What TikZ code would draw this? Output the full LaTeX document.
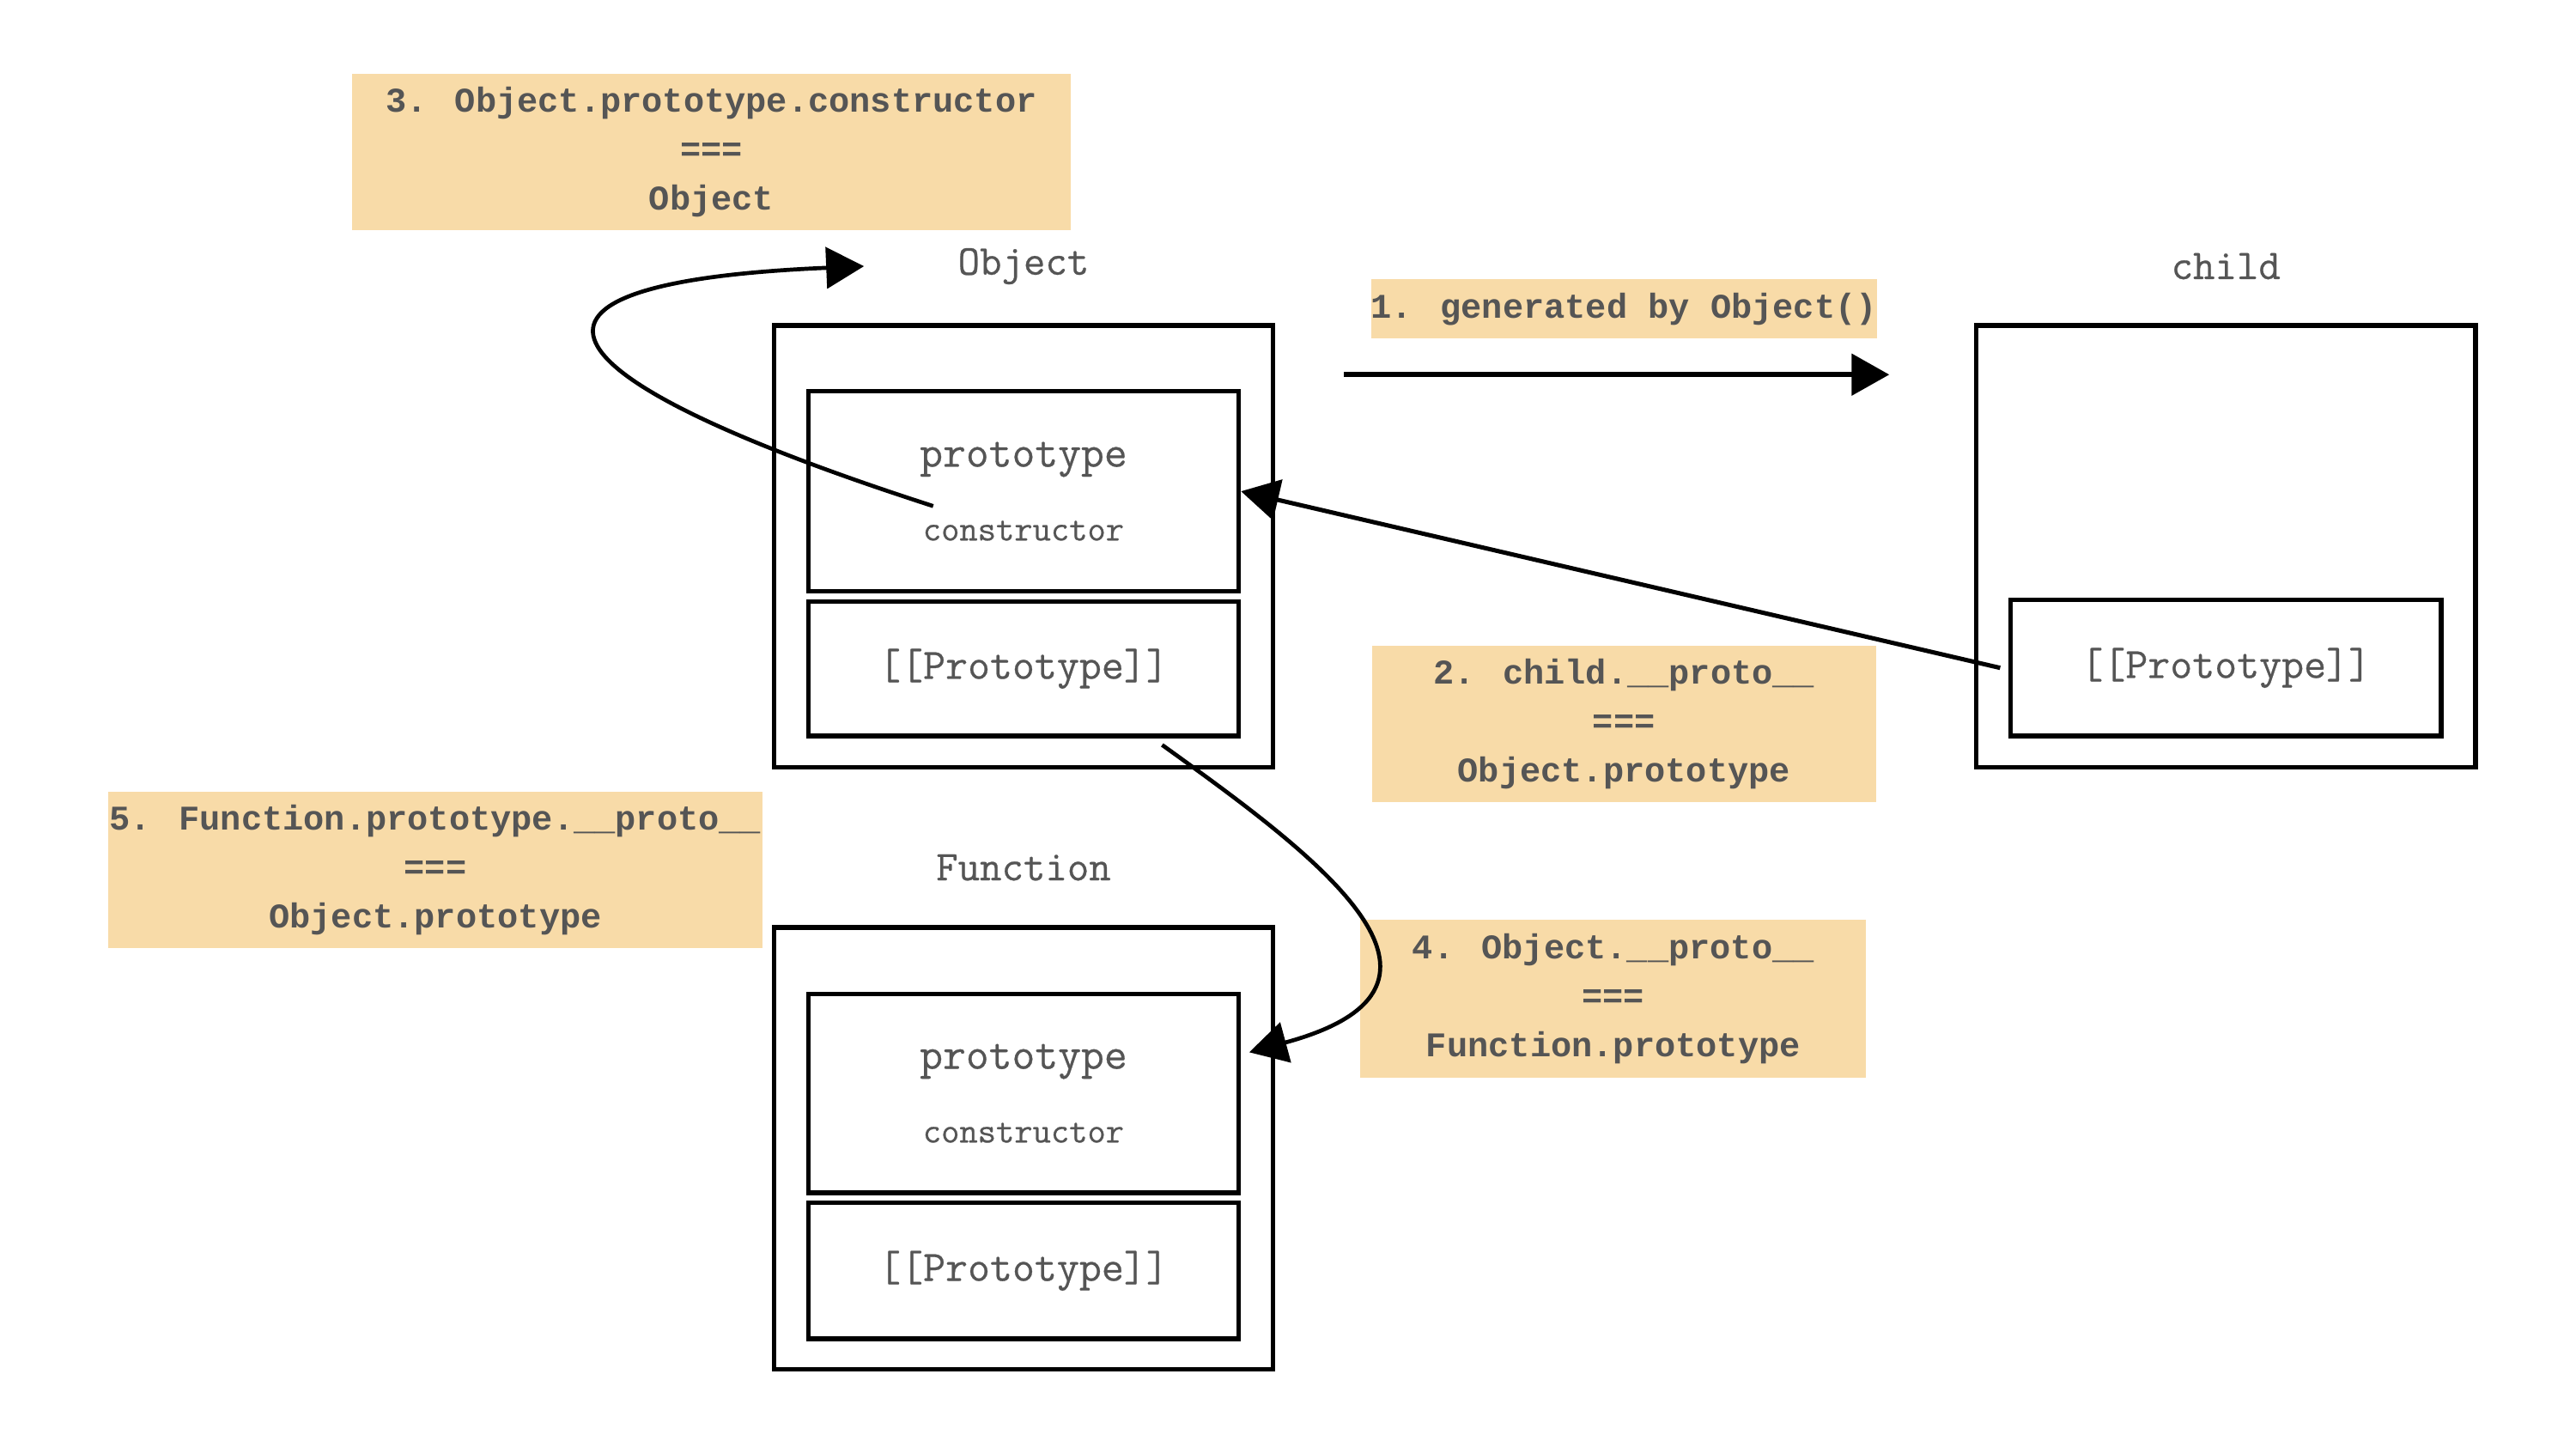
\documentclass[tikz,border=0pt]{standalone}
\usepackage{fontspec}
\newfontfamily\notefont{Liberation Mono}
\newfontfamily\boxfont{Latin Modern Mono}[FakeBold=0.5]
\usetikzlibrary{arrows.meta,positioning}
\definecolor{notebg}{HTML}{F8DBA8}
\definecolor{ink}{HTML}{555555}

\begin{document}
\begin{tikzpicture}[x=0.02cm,y=-0.02cm,on grid,
    outer/.style={draw, line width=1.6pt, minimum width=6.08cm, minimum height=5.38cm},
    slot/.style={draw, line width=1.6pt, minimum width=5.24cm, text=ink,
                 font=\boxfont\fontsize{15}{17}\selectfont, align=center},
    title/.style={text=ink, font=\boxfont\fontsize{14.7}{16}\selectfont},
    note/.style={fill=notebg, text=ink, inner sep=0pt, align=center,
                 font=\notefont\bfseries\fontsize{12}{17}\selectfont},
    link/.style={-{Triangle[length=0.46cm,width=0.5cm]}, line width=1.8pt}]
  \useasboundingbox (0,0) rectangle (1568,877);
  % Object
  \node[outer] (obj) at (623,332.5) {};
  \node[title, above=3.41cm of obj] (objtitle) {Object};
  \node[slot, minimum height=2.44cm, above=0.67cm of obj] (objproto)
    {{\fontsize{15.5}{17}\selectfont prototype}\\[0.3cm]{\fontsize{12.3}{14}\selectfont constructor}};
  \node[slot, minimum height=1.64cm, below=1.49cm of obj] (objpp) {[[Prototype]]};
  % child
  \node[outer, right=14.64cm of obj] (child) {};
  \node[title, above=3.41cm of child] (childtitle) {child};
  \node[slot, minimum height=1.66cm, below=1.48cm of child] (childpp) {[[Prototype]]};
  % Function
  \node[outer, below=7.33cm of obj] (fun) {};
  \node[title, above=3.42cm of fun] (funtitle) {Function};
  \node[slot, minimum height=2.42cm, above=0.67cm of fun] (funproto)
    {{\fontsize{15.5}{17}\selectfont prototype}\\[0.3cm]{\fontsize{12.3}{14}\selectfont constructor}};
  \node[slot, minimum height=1.66cm, below=1.49cm of fun] (funpp) {[[Prototype]]};
  % notes
  \node[note, minimum width=8.76cm, minimum height=1.9cm] (n3) at (433,92.5)
    {3. Object.prototype.constructor\\===\\Object};
  \node[note, minimum width=6.14cm, minimum height=0.72cm] (n1) at (988.5,188)
    {1. generated by Object()};
  \node[note, minimum width=6.14cm, minimum height=1.9cm] (n2) at (988.5,440.5)
    {2. child.\_\_proto\_\_\\===\\Object.prototype};
  \node[note, minimum width=6.16cm, minimum height=1.92cm] (n4) at (982,608)
    {4. Object.\_\_proto\_\_\\===\\Function.prototype};
  \node[note, minimum width=7.96cm, minimum height=1.9cm] (n5) at (265,529.5)
    {5. Function.prototype.\_\_proto\_\_\\===\\Object.prototype};
  % links
  \coordinate (gen-from) at (818,228);
  \coordinate (gen-to) at (1150,228);
  \draw[link] (gen-from) -- (gen-to);
  \draw[link, line width=1.5pt] ([xshift=-0.1cm]childpp.west) -- (objproto.east);
  \draw[link, line width=1.4pt] ([xshift=-1.1cm,yshift=-0.18cm]objproto.center)
    .. controls (320,228) and (290,172) .. ([xshift=-1.02cm]objtitle.west);
  \draw[link, line width=1.4pt] ([xshift=-0.96cm,yshift=-0.08cm]objpp.south east)
    .. controls (800,520) and (910,600) .. ([xshift=0.1cm,yshift=0.5cm]funproto.east);
\end{tikzpicture}
\end{document}
